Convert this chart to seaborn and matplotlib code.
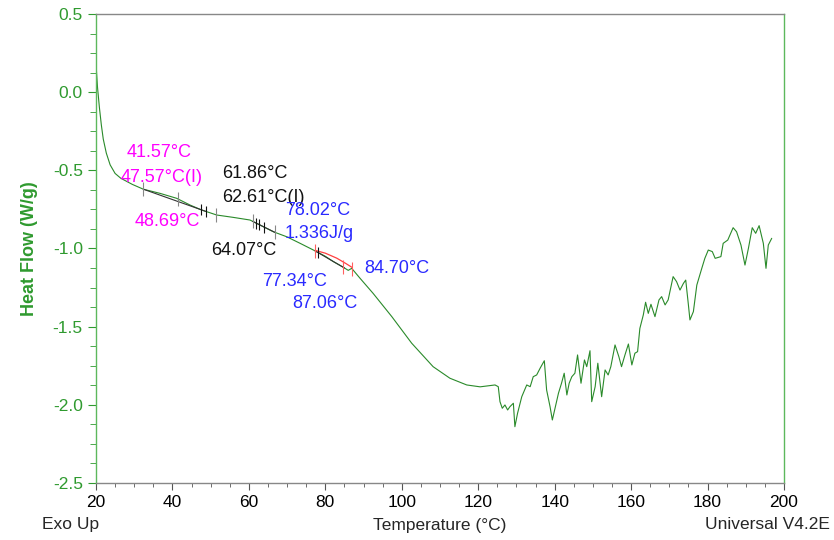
import numpy as np
import pandas as pd
import seaborn as sns
import matplotlib.pyplot as plt
from matplotlib.ticker import MultipleLocator

# DSC trace
temp = [20.0, 20.4, 20.9, 21.4, 21.9, 22.7, 23.7, 25.0, 26.5, 29.5, 32.4, 36.7, 41.1, 44.6,
        47.65, 51.6, 55.9, 60.3, 62.9, 66.4, 69.9, 73.4, 77.7, 80.0, 82.1, 84.7, 86.0, 86.9,
        89.1, 92.5, 97.4, 102.6, 108.2, 112.6, 117.0, 120.5, 124.4,
        125.25, 125.7, 126.3, 127.0, 127.7, 128.3, 129.2, 129.6, 130.3, 131.4, 132.7, 133.6,
        134.4, 135.3, 136.2, 137.3, 137.9, 138.8, 139.4, 140.3, 141.0, 141.8, 142.5, 143.2,
        143.8, 144.5, 145.3, 146.0, 146.9, 147.8, 148.4, 149.25, 149.7, 150.6, 151.3, 152.3,
        153.2, 154.0, 154.7, 155.8, 156.8, 157.5, 158.4, 159.3, 160.2, 161.0, 161.7, 162.3,
        163.2, 163.8, 164.5, 165.2, 166.25, 167.3, 168.0, 168.9, 169.7, 171.0, 171.9, 172.8,
        173.7, 174.3, 175.0, 175.4, 176.3, 177.2, 178.5, 179.3, 180.2, 181.25, 182.0, 183.5,
        184.1, 185.3, 186.7, 187.6, 188.75, 189.8, 190.7, 191.7, 192.6, 193.5, 194.6, 195.3,
        195.9, 196.8]
heat_flow = [0.18, 0.03, -0.10, -0.21, -0.30, -0.39, -0.465, -0.52, -0.551, -0.59, -0.621,
             -0.647, -0.679, -0.722, -0.754, -0.786, -0.801, -0.818, -0.850, -0.893, -0.925,
             -0.967, -1.020, -1.05, -1.084, -1.120, -1.140, -1.127, -1.191, -1.287, -1.436,
             -1.606, -1.756, -1.830, -1.873, -1.885, -1.873,
             -1.884, -1.980, -2.022, -2.001, -2.033, -2.012, -1.990, -2.140, -2.054, -1.948,
             -1.873, -1.884, -1.820, -1.809, -1.766, -1.718, -1.905, -2.012, -2.097, -2.001,
             -1.926, -1.862, -1.798, -1.937, -1.862, -1.820, -1.798, -1.681, -1.862, -1.713,
             -1.756, -1.654, -1.980, -1.884, -1.734, -1.948, -1.777, -1.809, -1.756, -1.617,
             -1.692, -1.756, -1.681, -1.611, -1.745, -1.670, -1.660, -1.511,
             -1.425, -1.344, -1.415, -1.357, -1.436, -1.329, -1.308, -1.361, -1.329, -1.180,
             -1.212, -1.266, -1.223, -1.202, -1.361, -1.457, -1.404, -1.234, -1.127, -1.063,
             -1.010, -1.020, -1.063, -1.052, -0.967, -0.946, -0.867, -0.893, -0.978, -1.106,
             -0.999, -0.867, -0.903, -0.854, -0.967, -1.127, -0.978, -0.935]

# integration baseline of the small peak
base_t = [77.34, 80.0, 83.0, 85.5, 87.06]
base_hf = [-1.012, -1.030, -1.062, -1.098, -1.122]

# analysis cursors
gray_ticks = [32.4, 41.57, 51.4, 61.0, 66.8]
black_ticks = [47.57, 48.69, 61.86, 62.61, 64.07, 78.02]
red_ticks = [77.34, 84.70, 87.06]
tangents = [(32.4, 48.69), (61.0, 66.8), (77.34, 85.0)]

green = '#2f9a2f'
df = pd.DataFrame({'Temperature': temp, 'Heat Flow': heat_flow})

sns.set_style('white')
plt.rcParams['font.family'] = ['Liberation Sans', 'DejaVu Sans']

fig = plt.figure(figsize=(8.34, 5.40), dpi=100)
ax = fig.add_axes([0.1151, 0.1056, 0.8249, 0.8685])

sns.lineplot(data=df, x='Temperature', y='Heat Flow', sort=False, estimator=None,
             color='#2a8a2a', linewidth=0.8, ax=ax)

for t0, t1 in tangents:
    ax.plot([t0, t1], np.interp([t0, t1], temp, heat_flow), color='#333333', linewidth=0.8)
ax.plot(base_t, base_hf, color='#ff4040', linewidth=0.9)

def cursors(ts, color, h):
    ys = np.interp(ts, temp, heat_flow)
    ax.vlines(ts, ys - h, ys + h, colors=color, linewidth=0.8)

cursors(gray_ticks, '#888888', 0.045)
cursors(black_ticks, '#111111', 0.035)
cursors(red_ticks, '#ff6060', 0.045)

fs = 12.5
afs = 13
mag, blue, blk = '#ff00ff', '#2a2aff', '#111111'
ax.text(28.1, -0.383, '41.57°C', color=mag, fontsize=afs, va='center')
ax.text(26.5, -0.543, '47.57°C(I)', color=mag, fontsize=afs, va='center')
ax.text(30.2, -0.830, '48.69°C', color=mag, fontsize=afs, va='center')
ax.text(53.0, -0.523, '61.86°C', color=blk, fontsize=afs, va='center')
ax.text(53.0, -0.677, '62.61°C(I)', color=blk, fontsize=afs, va='center')
ax.text(50.1, -1.010, '64.07°C', color=blk, fontsize=afs, va='center')
ax.text(69.4, -0.760, '78.02°C', color=blue, fontsize=afs, va='center')
ax.text(69.4, -0.907, '1.336J/g', color=blue, fontsize=afs, va='center')
ax.text(90.1, -1.125, '84.70°C', color=blue, fontsize=afs, va='center')
ax.text(63.4, -1.214, '77.34°C', color=blue, fontsize=afs, va='center')
ax.text(71.3, -1.355, '87.06°C', color=blue, fontsize=afs, va='center')

ax.set_xlim(20, 200)
ax.set_ylim(-2.5, 0.5)
ax.xaxis.set_major_locator(MultipleLocator(20))
ax.xaxis.set_minor_locator(MultipleLocator(5))
ax.yaxis.set_major_locator(MultipleLocator(0.5))
ax.yaxis.set_minor_locator(MultipleLocator(0.125))
ax.yaxis.set_major_formatter(plt.FuncFormatter(lambda v, p: f'{v:.1f}'))

ax.tick_params(axis='x', which='both', direction='out', colors='#555555', labelcolor='black',
               labelsize=fs, bottom=True)
ax.tick_params(axis='x', which='major', length=5)
ax.tick_params(axis='x', which='minor', length=3)
ax.tick_params(axis='y', which='both', direction='out', colors=green, labelcolor=green,
               labelsize=fs, left=True)
ax.tick_params(axis='y', which='major', length=6)
ax.tick_params(axis='y', which='minor', length=4)

for side in ['left', 'right']:
    ax.spines[side].set_color('#5cb85c')
    ax.spines[side].set_linewidth(1.0)
for side in ['top', 'bottom']:
    ax.spines[side].set_color('#888888')
    ax.spines[side].set_linewidth(1.0)

ax.set_xlabel('Temperature (°C)', fontsize=fs, labelpad=6)
ax.set_ylabel('Heat Flow (W/g)', fontsize=13, color=green, fontweight='bold', va='center')
ax.yaxis.set_label_coords(-0.096, 0.5)
fig.text(0.050, 0.0296, 'Exo Up', fontsize=fs, va='center')
fig.text(0.995, 0.0296, 'Universal V4.2E', fontsize=fs, va='center', ha='right')

fig.savefig('out.png', dpi=100)
